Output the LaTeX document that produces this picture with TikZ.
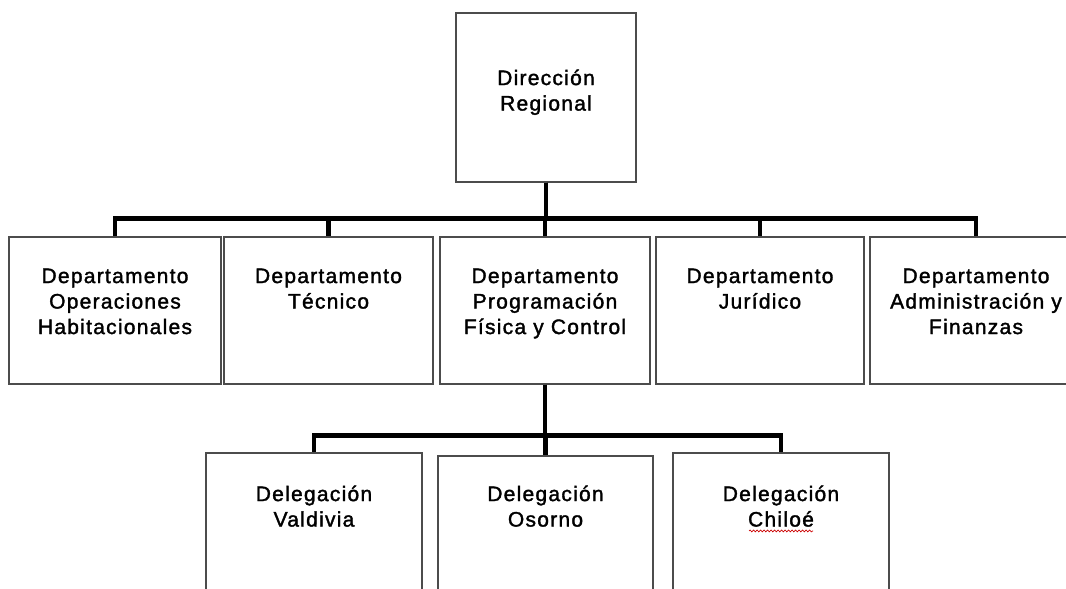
\documentclass[tikz,border=0pt]{standalone}
\usepackage{fontspec}
\setmainfont{Liberation Sans}[LetterSpace=6, FakeBold=1.6]
\usetikzlibrary{decorations.pathmorphing}
\tikzset{
  box/.style={draw=black!70, line width=1.2pt, fill=white, rectangle, inner sep=0pt},
  txt/.style={anchor=north, inner sep=0pt, align=center, font=\fontsize{21}{25.5}\selectfont, text=black},
  conn/.style={line width=4.5pt, black, line join=miter},
  squig/.style={red!80!black, line width=0.7pt, decorate, decoration={snake, amplitude=0.9pt, segment length=3.5pt}}
}
\begin{document}
\begin{tikzpicture}[x=1pt, y=-1pt]
\useasboundingbox (0,0) rectangle (1066,589);
\fill[white] (0,0) rectangle (1066,589);
\clip (0,0) rectangle (1066,589);
% top
\node[box, minimum width=180pt, minimum height=169pt] (top) at (546,97.5) {};
% row 2
\node[box, minimum width=212pt, minimum height=147pt] (d1) at (115,310.5) {};
\node[box, minimum width=209pt, minimum height=147pt] (d2) at (328.5,310.5) {};
\node[box, minimum width=210pt, minimum height=147pt] (d3) at (545,310.5) {};
\node[box, minimum width=208pt, minimum height=147pt] (d4) at (760,310.5) {};
\node[box, minimum width=212pt, minimum height=147pt] (d5) at (976,310.5) {};
% row 3
\node[box, minimum width=216pt, minimum height=170pt] (e1) at (314,538) {};
\node[box, minimum width=215pt, minimum height=170pt] (e2) at (545.5,541) {};
\node[box, minimum width=216pt, minimum height=170pt] (e3) at (781,538) {};
% connectors
\coordinate (j1) at ([yshift=-36pt]top.south);
\foreach \n in {d1,d2,d3,d4,d5}{
  \draw[conn] (top.south) -- (j1) -| (\n.north);
}
\coordinate (j2) at ([yshift=-51pt]d3.south);
\foreach \n in {e1,e2,e3}{
  \draw[conn] (d3.south) -- (j2) -| (\n.north);
}
% texts
\node[txt] (ttop) at ([yshift=-57pt]top.north) {Dirección\\Regional};
\node[txt] (t1) at ([yshift=-32pt]d1.north) {Departamento\\Operaciones\\Habitacionales};
\node[txt] (t2) at ([yshift=-32pt]d2.north) {Departamento\\Técnico};
\node[txt] (t3) at ([yshift=-32pt]d3.north) {Departamento\\Programación\\Física y Control};
\node[txt] (t4) at ([yshift=-32pt]d4.north) {Departamento\\Jurídico};
\node[txt] (t5) at ([yshift=-32pt]d5.north) {Departamento\\Administración y\\Finanzas};
\node[txt] (u1) at ([yshift=-33pt]e1.north) {Delegación\\Valdivia};
\node[txt] (u2) at ([yshift=-30pt]e2.north) {Delegación\\Osorno};
\node[txt] (u3) at ([yshift=-33pt]e3.north) {Delegación\\Chiloé};
\draw[squig] ([xshift=-32pt,yshift=-4pt]u3.south) -- ([xshift=32pt,yshift=-4pt]u3.south);
\end{tikzpicture}
\end{document}
